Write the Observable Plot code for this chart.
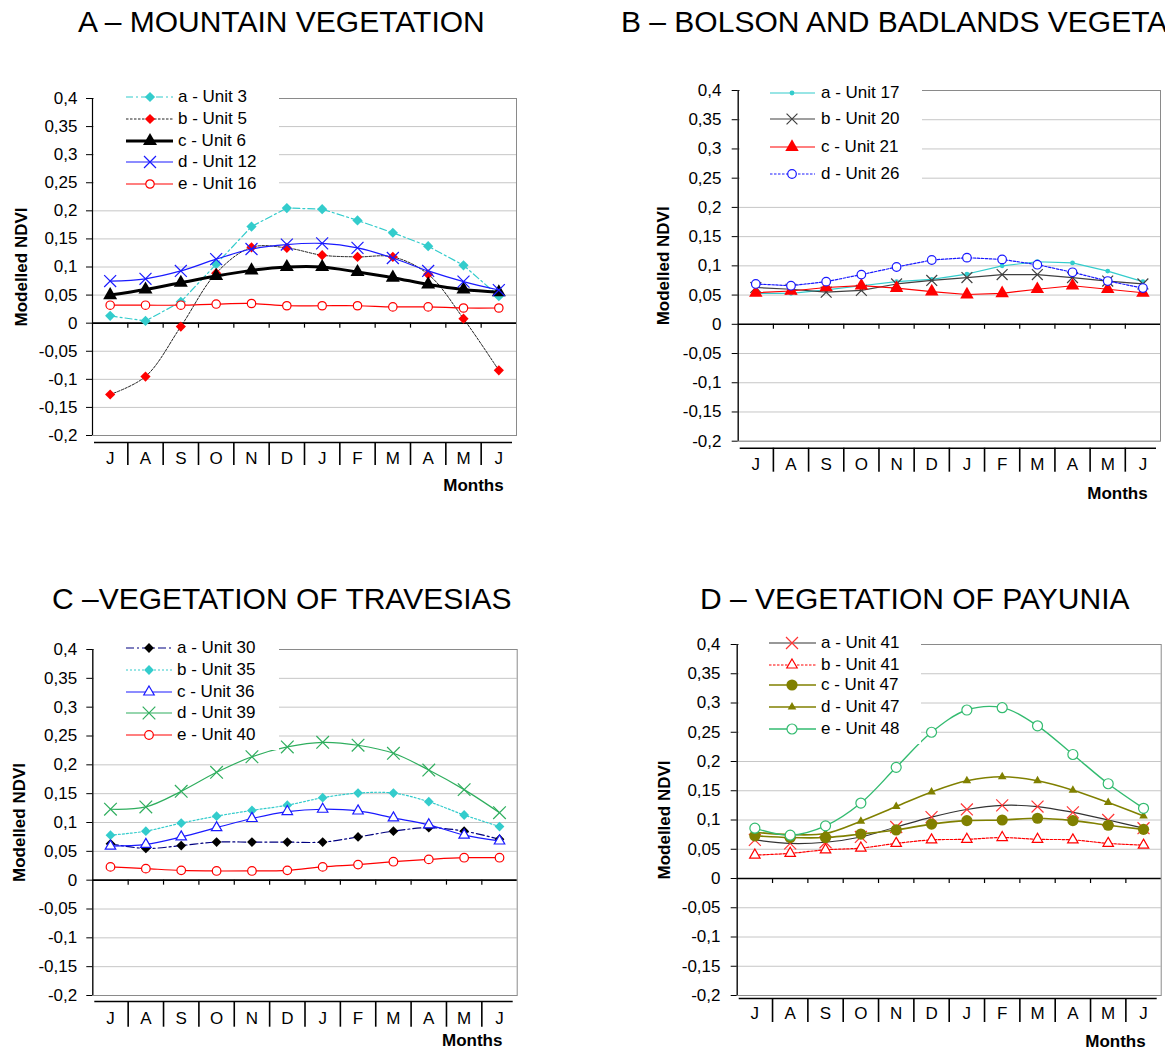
<!DOCTYPE html>
<html><head><meta charset="utf-8">
<script src="https://cdn.jsdelivr.net/npm/d3@7"></script>
<script src="https://cdn.jsdelivr.net/npm/@observablehq/plot@0.6"></script>
<style>
html,body{margin:0;padding:0;background:#fff;}
body{width:1165px;height:1051px;overflow:hidden;position:relative;font-family:"Liberation Sans",Arial,sans-serif;color:#000;}
.title{position:absolute;font-size:30px;line-height:1;white-space:nowrap;}
.panel{position:absolute;}
.legend{position:absolute;background:#fff;z-index:2;}
.row{position:absolute;left:0;height:20px;width:100%;}
.row svg{position:absolute;top:0;overflow:visible;}
.row span{position:absolute;top:0;line-height:20px;font-size:17px;white-space:nowrap;}
</style></head>
<body>
<script>
// ---------- data ----------
const months = ["J","A","S","O","N","D","J","F","M","A","M","J"];
const yTicks = [-0.2,-0.15,-0.1,-0.05,0,0.05,0.1,0.15,0.2,0.25,0.3,0.35,0.4];

// A – Mountain vegetation
const unit3  = [0.013,0.004,0.038,0.105,0.172,0.205,0.203,0.183,0.161,0.137,0.103,0.048];
const unit5  = [-0.127,-0.095,-0.006,0.089,0.135,0.134,0.121,0.118,0.118,0.087,0.008,-0.084];
const unit6  = [0.050,0.060,0.072,0.084,0.094,0.100,0.100,0.091,0.081,0.069,0.060,0.055];
const unit12 = [0.075,0.079,0.093,0.114,0.132,0.140,0.142,0.134,0.116,0.093,0.074,0.059];
const unit16 = [0.032,0.032,0.032,0.034,0.035,0.031,0.031,0.031,0.029,0.029,0.027,0.027];
// B – Bolson and badlands vegetation
const unit17 = [0.053,0.053,0.059,0.066,0.073,0.077,0.086,0.100,0.107,0.105,0.091,0.073];
const unit20 = [0.063,0.060,0.055,0.058,0.069,0.075,0.080,0.085,0.085,0.080,0.074,0.069];
const unit21 = [0.054,0.057,0.063,0.066,0.062,0.056,0.051,0.053,0.060,0.066,0.060,0.054];
const unit26 = [0.069,0.066,0.073,0.085,0.098,0.110,0.114,0.111,0.102,0.089,0.074,0.062];
// C – Vegetation of travesias
const unit30 = [0.063,0.055,0.060,0.066,0.066,0.066,0.066,0.075,0.085,0.091,0.085,0.071];
const unit35 = [0.078,0.085,0.099,0.111,0.121,0.130,0.143,0.151,0.151,0.136,0.113,0.093];
const unit36 = [0.059,0.062,0.075,0.091,0.107,0.119,0.123,0.120,0.108,0.096,0.078,0.068];
const unit39 = [0.123,0.127,0.154,0.187,0.214,0.231,0.239,0.234,0.220,0.191,0.157,0.117];
const unit40 = [0.023,0.020,0.017,0.016,0.016,0.017,0.023,0.027,0.032,0.036,0.039,0.039];
// D – Vegetation of Payunia
const unit41a = [0.066,0.060,0.062,0.071,0.088,0.105,0.118,0.125,0.123,0.113,0.100,0.086];
const unit41b = [0.040,0.043,0.049,0.052,0.060,0.066,0.067,0.070,0.067,0.066,0.060,0.057];
const unit47c = [0.073,0.070,0.070,0.076,0.083,0.093,0.099,0.100,0.103,0.099,0.091,0.084];
const unit47d = [0.079,0.075,0.077,0.098,0.123,0.148,0.167,0.174,0.167,0.151,0.130,0.107];
const unit48  = [0.086,0.074,0.090,0.129,0.190,0.250,0.288,0.292,0.261,0.212,0.162,0.120];

// ---------- styles ----------
const CYAN="#33cccc", RED="#ff0000", BLUE="#1a1aff", GREEN_C="#2fae5e", GREEN_D="#33bb70", OLIVE="#808000", NAVY="#000080";

const panels = [
  {
    title:"A – MOUNTAIN VEGETATION", tLeft:78, tTop:7,
    left:0, top:0, W:530, H:500, mL:92, mR:14, mT:98, mB:65,
    tickPad:9, ylabDx:-71, catOff:7, catBot:30, labDy:23, monDx:-43, monDy:50,
    legend:{left:94, top:88, width:185, height:108, rows:[9.3,31,53,74,95.7], x0:32, x1:79, mx:56, tx:84},
    series:[
      {name:"a - Unit 3", values:unit3, stroke:CYAN, sw:1.2, dash:"7,3,2,3", sym:"diamond2", r:4.6, fill:CYAN, ms:"none", curve:"linear"},
      {name:"b - Unit 5", values:unit5, stroke:"#222", sw:1, dash:"2.5,1.5", sym:"diamond2", r:4.6, fill:RED, ms:"none", curve:"catmull-rom"},
      {name:"c - Unit 6", values:unit6, stroke:"#000", sw:3, dash:null, sym:"triangle", r:5.2, fill:"#000", ms:"none", curve:"catmull-rom"},
      {name:"d - Unit 12", values:unit12, stroke:BLUE, sw:1.2, dash:null, sym:"times", r:5.5, fill:"none", ms:BLUE, curve:"catmull-rom"},
      {name:"e - Unit 16", values:unit16, stroke:RED, sw:1.2, dash:null, sym:"circle", r:4.2, fill:"#fff", ms:RED, curve:"catmull-rom"}
    ]
  },
  {
    title:"B – BOLSON AND BADLANDS VEGETATION", tLeft:621, tTop:7,
    left:580, top:0, W:585, H:510, mL:157.7, mR:5, mT:90, mB:69.3,
    tickPad:10.7, ylabDx:-75, catOff:7, catBot:31, labDy:23.3, monDx:-43, monDy:52.3,
    legend:{left:740, top:80, width:182, height:110, rows:[13.3,39.3,66.7,94], x0:30, x1:75, mx:52, tx:81},
    series:[
      {name:"a - Unit 17", values:unit17, stroke:CYAN, sw:1.2, dash:null, sym:"circle", r:2.4, fill:CYAN, ms:"none", curve:"linear"},
      {name:"b - Unit 20", values:unit20, stroke:"#404040", sw:1.2, dash:null, sym:"times", r:5, fill:"none", ms:"#404040", curve:"linear"},
      {name:"c - Unit 21", values:unit21, stroke:RED, sw:1.2, dash:null, sym:"triangle", r:5, fill:RED, ms:"none", curve:"linear"},
      {name:"d - Unit 26", values:unit26, stroke:BLUE, sw:1.2, dash:"2.5,1.5", sym:"circle", r:4.3, fill:"#fff", ms:BLUE, curve:"linear"}
    ]
  },
  {
    title:"C –VEGETATION OF TRAVESIAS", tLeft:52, tTop:584,
    left:0, top:560, W:530, H:491, mL:92.3, mR:13.3, mT:89, mB:56,
    tickPad:9.6, ylabDx:-73, catOff:6, catBot:31.7, labDy:23, monDx:-45, monDy:45,
    legend:{left:94, top:640, width:185, height:110, rows:[8.3,30,51.7,73.3,95], x0:32, x1:78, mx:55, tx:83},
    series:[
      {name:"a - Unit 30", values:unit30, stroke:NAVY, sw:1.2, dash:"8,3,2,3", sym:"diamond2", r:4.4, fill:"#000", ms:"none", curve:"catmull-rom"},
      {name:"b - Unit 35", values:unit35, stroke:CYAN, sw:1.2, dash:"2,2", sym:"diamond2", r:4.4, fill:CYAN, ms:"none", curve:"catmull-rom"},
      {name:"c - Unit 36", values:unit36, stroke:BLUE, sw:1.2, dash:null, sym:"triangle2", r:5, fill:"#fff", ms:BLUE, curve:"catmull-rom"},
      {name:"d - Unit 39", values:unit39, stroke:GREEN_C, sw:1.2, dash:null, sym:"times", r:5.8, fill:"none", ms:GREEN_C, curve:"catmull-rom"},
      {name:"e - Unit 40", values:unit40, stroke:RED, sw:1.2, dash:null, sym:"circle", r:4.3, fill:"#fff", ms:RED, curve:"catmull-rom"}
    ]
  },
  {
    title:"D – VEGETATION OF PAYUNIA", tLeft:700, tTop:584,
    left:580, top:560, W:585, H:491, mL:156.7, mR:4.3, mT:84, mB:56,
    tickPad:10.7, ylabDx:-72.7, catOff:3, catBot:27, labDy:18, monDx:-45.7, monDy:46,
    legend:{left:739, top:636, width:182, height:108, rows:[7.3,29,49,70.7,93], x0:30, x1:77, mx:53, tx:82},
    series:[
      {name:"a - Unit 41", values:unit41a, stroke:"#333", sw:1.2, dash:null, sym:"times", r:5.5, fill:"none", ms:"#ff3333", curve:"catmull-rom"},
      {name:"b - Unit 41", values:unit41b, stroke:RED, sw:1.2, dash:"2.5,1.5", sym:"triangle2", r:5, fill:"#fff", ms:RED, curve:"catmull-rom"},
      {name:"c - Unit 47", values:unit47c, stroke:OLIVE, sw:1.6, dash:null, sym:"circle", r:5.6, fill:OLIVE, ms:"none", curve:"catmull-rom"},
      {name:"d - Unit 47", values:unit47d, stroke:OLIVE, sw:1.6, dash:null, sym:"triangle", r:3.2, fill:OLIVE, ms:"none", curve:"catmull-rom"},
      {name:"e - Unit 48", values:unit48, stroke:GREEN_D, sw:1.4, dash:null, sym:"circle", r:5, fill:"#fff", ms:GREEN_D, curve:"catmull-rom"}
    ]
  }
];

// ---------- helpers ----------
const xDomain = [-0.5, months.length - 0.5];
const yDomain = [yTicks[0], yTicks[yTicks.length - 1]];
const bounds = months.slice(1).map((_, i) => i + 0.5);
const fmt = d => String(+d.toFixed(2)).replace(".", ",");
const d3sym = {diamond2:d3.symbolDiamond2, triangle:d3.symbolTriangle, triangle2:d3.symbolTriangle2, times:d3.symbolTimes, circle:d3.symbolCircle};

function makeChart(p) {
  const marks = [
    Plot.gridY(yTicks, {stroke:"#c6c6c6", strokeOpacity:1, strokeWidth:1}),
    Plot.frame({stroke:"#8a8a8a", strokeWidth:1}),
    Plot.ruleY([0], {stroke:"#000", strokeWidth:1.6}),
    Plot.ruleX(bounds, {y1:0, y2:0, insetBottom:-5, stroke:"#000", strokeWidth:1.2}),
    Plot.ruleX([xDomain[0]], {stroke:"#000", strokeWidth:1.2}),
    Plot.axisY(yTicks, {anchor:"left", tickSize:6, tickPadding:p.tickPad, tickFormat:fmt, fontSize:17, label:null, stroke:"#000"}),
    Plot.ruleY([yDomain[0]], {dy:p.catOff, stroke:"#000", strokeWidth:1.6, insetLeft:2, insetRight:4}),
    Plot.ruleX(bounds, {y1:yDomain[0], y2:yDomain[0], insetTop:p.catOff, insetBottom:-p.catBot, stroke:"#000", strokeWidth:1.6}),
    Plot.text(months, {x:(d, i) => i, frameAnchor:"bottom", dy:p.labDy, text:d => d, fontSize:17, textAnchor:"middle", lineAnchor:"middle"}),
    Plot.text(["Months"], {frameAnchor:"bottom-right", dx:p.monDx, dy:p.monDy, text:d => d, fontSize:17, fontWeight:"bold", textAnchor:"middle", lineAnchor:"middle"}),
    Plot.text(["Modelled NDVI"], {frameAnchor:"left", dx:p.ylabDx, rotate:-90, text:d => d, fontSize:17, fontWeight:"bold", textAnchor:"middle", lineAnchor:"middle"})
  ];
  for (const s of p.series) {
    const rows = s.values.map((v, i) => ({i, v}));
    marks.push(Plot.line(rows, {x:"i", y:"v", stroke:s.stroke, strokeWidth:s.sw, strokeDasharray:s.dash || undefined, curve:s.curve}));
    marks.push(Plot.dot(rows, {x:"i", y:"v", symbol:s.sym, r:s.r, fill:s.fill, stroke:s.ms, strokeWidth:1.2}));
  }
  return Plot.plot({
    width:p.W, height:p.H,
    marginLeft:p.mL, marginRight:p.mR, marginTop:p.mT, marginBottom:p.mB,
    x:{domain:xDomain, axis:null},
    y:{domain:yDomain, axis:null},
    style:{fontFamily:"'Liberation Sans', Arial, sans-serif", fontSize:"17px", background:"transparent", overflow:"visible", color:"#000"},
    marks
  });
}

function makeLegend(p) {
  const L = p.legend;
  const box = document.createElement("div");
  box.className = "legend";
  Object.assign(box.style, {left:L.left + "px", top:L.top + "px", width:L.width + "px", height:L.height + "px"});
  p.series.forEach((s, k) => {
    const row = document.createElement("div");
    row.className = "row";
    row.style.top = (L.rows[k] - 10) + "px";
    const svg = d3.create("svg").attr("width", L.x1 - L.x0).attr("height", 20).style("left", L.x0 + "px");
    svg.append("line").attr("x1", 0).attr("x2", L.x1 - L.x0).attr("y1", 10).attr("y2", 10)
      .attr("stroke", s.stroke).attr("stroke-width", s.sw).attr("stroke-dasharray", s.dash || null);
    svg.append("path").attr("transform", `translate(${L.mx - L.x0},10)`)
      .attr("d", d3.symbol(d3sym[s.sym], s.r * s.r * Math.PI)())
      .attr("fill", s.fill).attr("stroke", s.ms).attr("stroke-width", 1.2);
    row.appendChild(svg.node());
    const t = document.createElement("span");
    t.style.left = L.tx + "px";
    t.textContent = s.name;
    row.appendChild(t);
    box.appendChild(row);
  });
  return box;
}

for (const p of panels) {
  const t = document.createElement("div");
  t.className = "title";
  t.style.left = p.tLeft + "px";
  t.style.top = p.tTop + "px";
  t.textContent = p.title;
  document.body.appendChild(t);

  const wrap = document.createElement("div");
  wrap.className = "panel";
  wrap.style.left = p.left + "px";
  wrap.style.top = p.top + "px";
  wrap.appendChild(makeChart(p));
  document.body.appendChild(wrap);
  document.body.appendChild(makeLegend(p));
}
</script>
</body></html>
